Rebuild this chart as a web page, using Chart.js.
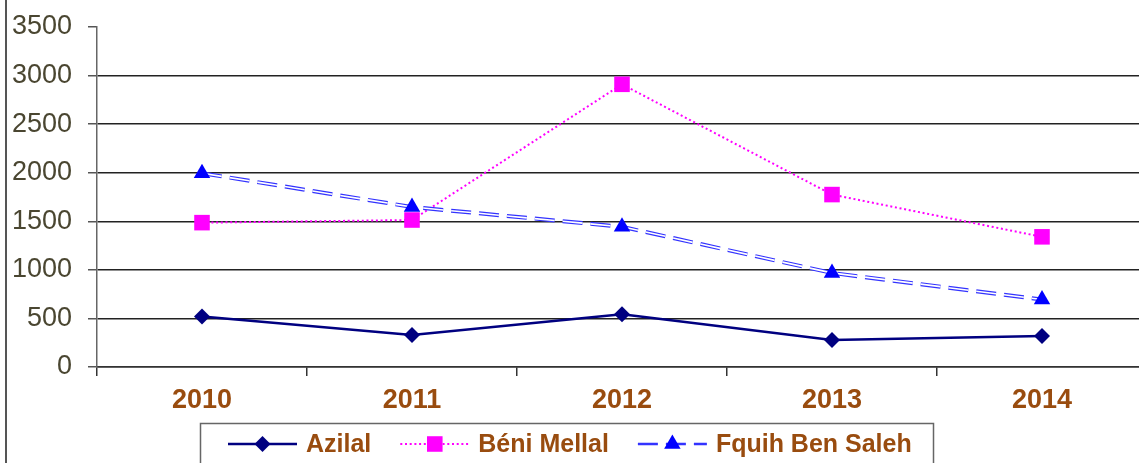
<!DOCTYPE html>
<html>
<head>
<meta charset="utf-8">
<script src="https://cdn.jsdelivr.net/npm/chart.js@4"></script>
<style>
  html, body { margin: 0; padding: 0; background: #fff; overflow: hidden; }
  #wrap { position: relative; width: 1139px; height: 463px; overflow: hidden; }
  #wrap canvas { position: absolute; left: 0; top: 0; }
  #frame { position: absolute; left: 5px; top: 0; width: 0; height: 463px; border-left: 2px solid #555; }
</style>
</head>
<body>
<div id="wrap">
  <canvas id="chart" width="1160" height="463"></canvas>
  <div id="frame"></div>
</div>
<script>
const years      = ['2010', '2011', '2012', '2013', '2014'];
const azilal     = [520, 330, 542, 278, 320];
const beniMellal = [1486, 1513, 2910, 1775, 1340];
const fquih      = [1995, 1647, 1443, 968, 695];
const yTicks     = [0, 500, 1000, 1500, 2000, 2500, 3000, 3500];

const FONT = '"Liberation Sans", Arial, sans-serif';
const BROWN = '#994c0f';

// marker shapes, used for the legend samples
function marker(ctx, style, r, x, y) {
  ctx.beginPath();
  if (style === 'rectRot') {
    ctx.moveTo(x - r, y); ctx.lineTo(x, y - r); ctx.lineTo(x + r, y); ctx.lineTo(x, y + r);
  } else if (style === 'rect') {
    const s = r * Math.SQRT1_2;
    ctx.rect(x - s, y - s, 2 * s, 2 * s);
  } else if (style === 'triangle') {
    ctx.moveTo(x, y - r);
    ctx.lineTo(x + r * Math.sin(2 * Math.PI / 3), y - r * Math.cos(2 * Math.PI / 3));
    ctx.lineTo(x + r * Math.sin(4 * Math.PI / 3), y - r * Math.cos(4 * Math.PI / 3));
  }
  ctx.closePath();
  ctx.fill();
}

// boxed legend below the axis, line + marker samples
const boxLegend = {
  id: 'boxLegend',
  afterDraw(chart) {
    const ctx = chart.ctx;
    ctx.save();
    ctx.strokeStyle = '#666';
    ctx.lineWidth = 1.5;
    ctx.strokeRect(200.5, 423.5, 733, 60);
    ctx.font = 'bold 25px ' + FONT;
    ctx.textBaseline = 'middle';
    let x = 228;
    const y = 444;
    chart.data.datasets.forEach(ds => {
      if (ds.inLegend === false) return;
      ctx.save();
      ctx.strokeStyle = ds.borderColor;
      ctx.lineWidth = ds.legendWidth || ds.borderWidth;
      ctx.setLineDash(ds.borderDash || []);
      ctx.beginPath(); ctx.moveTo(x, y); ctx.lineTo(x + 69, y); ctx.stroke();
      ctx.restore();
      ctx.fillStyle = ds.markerColor;
      marker(ctx, ds.markerStyle, ds.markerRadius, x + 34.5, y);
      ctx.fillStyle = BROWN;
      ctx.fillText(ds.label, x + 78, y + 1);
      x += 78 + ctx.measureText(ds.label).width + 29;
    });
    ctx.restore();
  }
};

new Chart(document.getElementById('chart'), {
  type: 'line',
  data: {
    labels: years,
    datasets: [
      { label: 'Azilal', data: azilal, order: 1,
        borderColor: '#000080', borderWidth: 2.5,
        pointStyle: 'rectRot', pointRadius: 8, pointBackgroundColor: '#000080', pointBorderWidth: 0,
        markerStyle: 'rectRot', markerRadius: 8, markerColor: '#000080' },
      { label: 'Béni Mellal', data: beniMellal, order: 5,
        borderColor: '#ff00ff', borderWidth: 2, borderDash: [2, 2.7],
        pointStyle: 'rect', pointRadius: 11, pointBackgroundColor: '#ff00ff', pointBorderWidth: 0,
        markerStyle: 'rect', markerRadius: 11, markerColor: '#ff00ff' },
      { label: 'Fquih Ben Saleh', data: fquih, order: 4,
        borderColor: '#3333ff', borderWidth: 4, borderDash: [20, 8], legendWidth: 2.5,
        pointRadius: 0,
        markerStyle: 'triangle', markerRadius: 9.5, markerColor: '#0000ff' },
      // white core of the hollow dashes, plus the triangles on top
      { label: '', data: fquih, order: 3, inLegend: false,
        borderColor: '#ffffff', borderWidth: 1.6, borderDash: [20, 8],
        pointStyle: 'triangle', pointRadius: 9.5, pointBackgroundColor: '#0000ff', pointBorderWidth: 0 }
    ]
  },
  options: {
    responsive: false,
    animation: false,
    events: [],
    layout: { padding: { left: 0, right: 13, top: 27, bottom: 0 } },
    plugins: { legend: { display: false }, tooltip: { enabled: false } },
    scales: {
      x: {
        offset: true,
        grid: { offset: true, drawOnChartArea: false, tickLength: 9, color: '#333', lineWidth: 1.5 },
        border: { color: '#333', width: 1.5 },
        ticks: { color: BROWN, font: { family: FONT, size: 27, weight: 'bold' }, padding: 8, maxRotation: 0 },
        afterFit(s) { s.height = 96; }
      },
      y: {
        min: 0, max: 3500,
        afterBuildTicks(s) { s.ticks = yTicks.map(v => ({ value: v })); },
        ticks: { color: '#4a4631', font: { family: FONT, size: 27 }, padding: 16, callback: v => String(v) },
        grid: {
          color: c => (c.tick && c.tick.value === 3500) ? 'rgba(0,0,0,0)' : '#222',
          tickColor: '#555', lineWidth: 1.5, tickLength: 9
        },
        border: { color: '#666', width: 1.5 },
        afterFit(s) { s.width = 97; s.paddingTop = 0; s.paddingBottom = 0; }
      }
    }
  },
  plugins: [boxLegend]
});
</script>
</body>
</html>
